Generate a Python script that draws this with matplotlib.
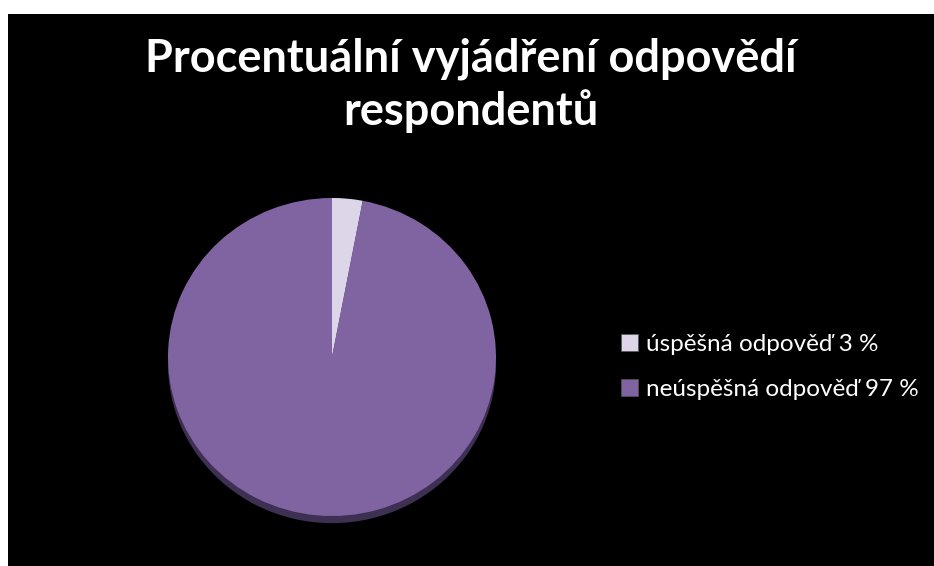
import matplotlib
matplotlib.use('Agg')
import matplotlib.pyplot as plt
from matplotlib.patches import Patch

plt.rcParams['font.family'] = ['Lato', 'Open Sans', 'DejaVu Sans']

# data
labels = ['úspěšná odpověď 3 %', 'neúspěšná odpověď 97 %']
values = [3, 97]
colors = ['#DDD6E8', '#8064A2']
title = 'Procentuální vyjádření odpovědí\nrespondentů'

W, H = 934, 566
fig = plt.figure(figsize=(W / 100, H / 100), dpi=100, facecolor='white')

# black chart area (white strip left and top)
bg = fig.add_axes([8 / W, 0, 1 - 8 / W, 1 - 14 / H])
bg.set_facecolor('black')
bg.set_xticks([])
bg.set_yticks([])
for s in bg.spines.values():
    s.set_visible(False)

# pie axes, slightly flattened; extra room below for the rim
cx, cy, rx, ry = 332, 357, 164, 159
ext = 0.05
ax = fig.add_axes([(cx - rx) / W, (H - cy - ry - ry * ext) / H,
                   2 * rx / W, (2 + ext) * ry / H])
ax.set_facecolor('none')
ax.axis('off')

# darker rim underneath for the bevel look
ax.pie([sum(values)], colors=['#3E3052'], startangle=90, counterclock=False,
       center=(0, -0.045), radius=1.0)
ax.pie(values, colors=colors, startangle=90, counterclock=False,
       wedgeprops=dict(linewidth=0))
ax.set_xlim(-1.0, 1.0)
ax.set_ylim(-1.0 - ext, 1.0)
ax.set_aspect('auto')

fig.text(0.504, 1 - 85 / H, title, ha='center', va='center', color='white',
         fontsize=32.5, fontweight='bold', linespacing=1.25)

handles = [Patch(facecolor=c, edgecolor='#555555', linewidth=0.5) for c in colors]
leg = fig.legend(handles, labels, loc='center left',
                 bbox_to_anchor=(599 / W, 1 - 367 / H), frameon=False,
                 fontsize=17.5, labelcolor='white', handlelength=0.7,
                 handleheight=0.7, handletextpad=0.35, labelspacing=1.0)

fig.savefig('out.png', dpi=100, facecolor='white')
